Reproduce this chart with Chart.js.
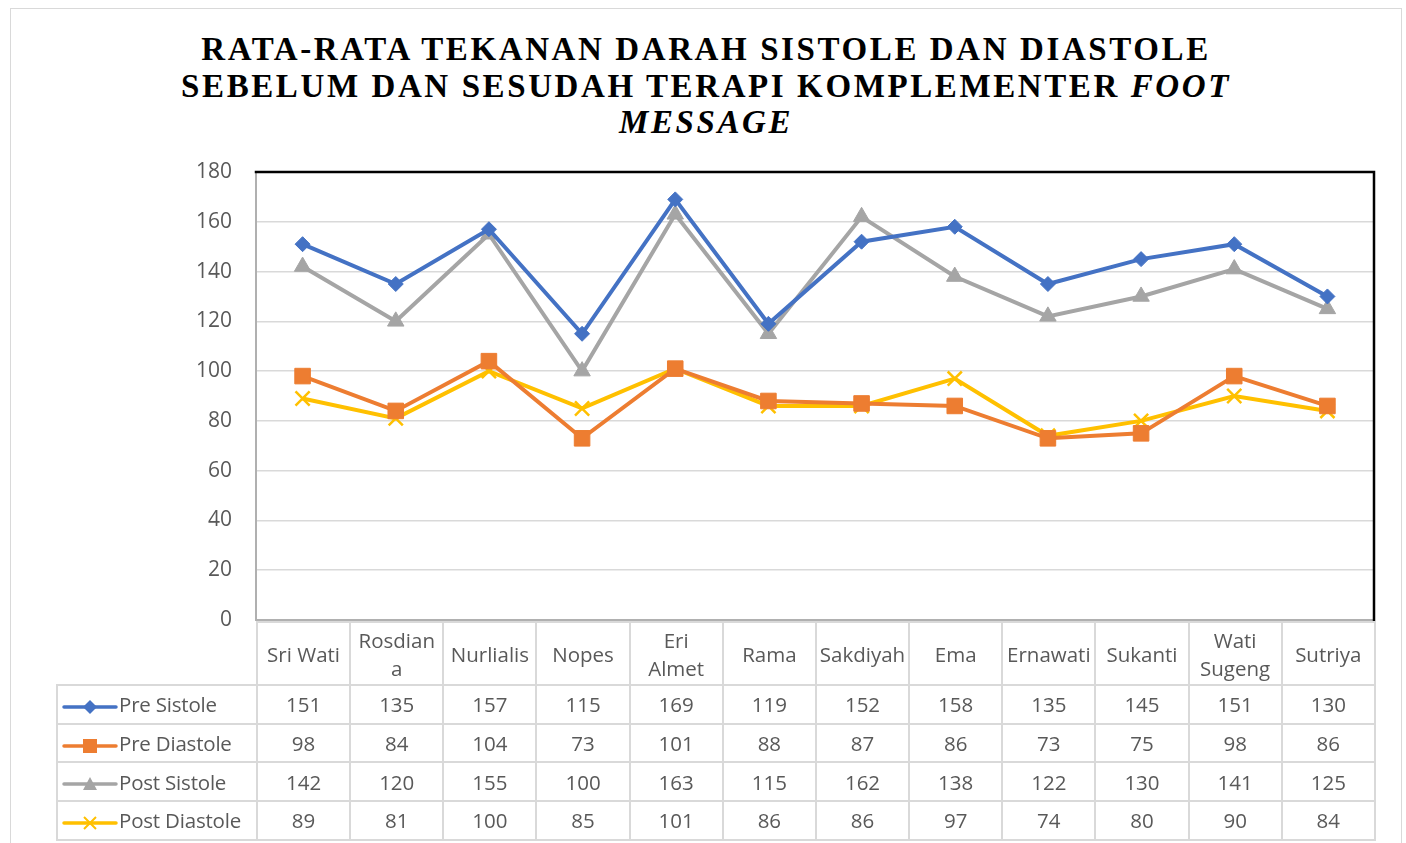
<!DOCTYPE html>
<html>
<head>
<meta charset="utf-8">
<script src="https://cdn.jsdelivr.net/npm/chart.js@4.4.1/dist/chart.umd.min.js"></script>
<style>
  html, body { margin: 0; padding: 0; background: #fff; }
  #wrap { position: relative; width: 1406px; height: 843px; overflow: hidden; }
  #frame { position: absolute; left: 10px; top: 8px; width: 1392px; height: 900px; border: 1.5px solid #d9d9d9; box-sizing: border-box; }
  #title {
    position: absolute; left: 0; top: 31px; width: 1412px; text-align: center;
    font-family: "Liberation Serif", "DejaVu Serif", serif; font-weight: bold;
    font-size: 33px; line-height: 36.5px; letter-spacing: 2.6px; color: #000; white-space: nowrap;
  }
  #chart { position: absolute; left: 0; top: 0; }
  #table { position: absolute; border-collapse: collapse; table-layout: fixed;
    font-family: "Open Sans", "Noto Sans", sans-serif; font-size: 20.5px; color: #595959; }
  #table td { border: 2px solid #d9d9d9; text-align: center; padding: 0; line-height: 28px; }
  #table td.blank { border: none; }
  #table td.key { text-align: left; white-space: nowrap; letter-spacing: -0.2px; }
  #table td.key svg { vertical-align: middle; margin-left: 4px; margin-right: 1px; }
</style>
</head>
<body>
<div id="wrap">
  <div id="frame"></div>
  <div id="title">RATA-RATA TEKANAN DARAH SISTOLE DAN DIASTOLE<br>SEBELUM DAN SESUDAH TERAPI KOMPLEMENTER <i>FOOT</i><br><i>MESSAGE</i></div>
  <canvas id="chart" width="1406" height="843"></canvas>
  <table id="table"></table>
</div>
<script>
// categories (patients)
const categories = ['Sri Wati', ['Rosdian', 'a'], 'Nurlialis', 'Nopes', ['Eri', 'Almet'], 'Rama',
  'Sakdiyah', 'Ema', 'Ernawati', 'Sukanti', ['Wati', 'Sugeng'], 'Sutriya'];

const preSistole   = [151, 135, 157, 115, 169, 119, 152, 158, 135, 145, 151, 130];
const preDiastole  = [98, 84, 104, 73, 101, 88, 87, 86, 73, 75, 98, 86];
const postSistole  = [142, 120, 155, 100, 163, 115, 162, 138, 122, 130, 141, 125];
const postDiastole = [89, 81, 100, 85, 101, 86, 86, 97, 74, 80, 90, 84];

const yTicks = [0, 20, 40, 60, 80, 100, 120, 140, 160, 180];

const series = [
  { label: 'Pre Sistole', data: preSistole, color: '#4472C4', style: 'rectRot', radius: 7.5 },
  { label: 'Pre Diastole', data: preDiastole, color: '#ED7D31', style: 'rect', radius: 11 },
  { label: 'Post Sistole', data: postSistole, color: '#A5A5A5', style: 'triangle', radius: 9.5 },
  { label: 'Post Diastole', data: postDiastole, color: '#FFC000', style: 'crossRot', radius: 10 },
];

const frameBorder = {
  id: 'frameBorder',
  beforeDatasetsDraw(chart) {
    const { ctx, chartArea: a } = chart;
    ctx.save();
    ctx.lineCap = 'square';
    ctx.strokeStyle = '#b0b0b0';
    ctx.lineWidth = 2;
    ctx.beginPath();
    ctx.moveTo(a.left, a.top);
    ctx.lineTo(a.left, a.bottom);
    ctx.lineTo(a.right, a.bottom);
    ctx.stroke();
    ctx.strokeStyle = '#000';
    ctx.lineWidth = 2.5;
    ctx.beginPath();
    ctx.moveTo(a.left, a.top);
    ctx.lineTo(a.right, a.top);
    ctx.lineTo(a.right, a.bottom);
    ctx.stroke();
    ctx.restore();
  }
};

const chart = new Chart(document.getElementById('chart'), {
  type: 'line',
  data: {
    labels: categories,
    datasets: series.map(s => ({
      label: s.label,
      data: s.data,
      borderColor: s.color,
      backgroundColor: s.color,
      borderWidth: 4,
      pointStyle: s.style,
      pointRadius: s.radius,
      pointBorderWidth: s.style === 'crossRot' ? 2.5 : 1,
      pointBackgroundColor: s.color,
      pointBorderColor: s.color,
      tension: 0,
    })),
  },
  options: {
    responsive: false,
    animation: false,
    layout: { padding: { left: 0, top: 172, right: 32, bottom: 223 } },
    plugins: { legend: { display: false }, tooltip: { enabled: false }, title: { display: false } },
    scales: {
      x: { type: 'category', offset: true, display: false },
      y: {
        min: 0, max: 180,
        afterFit(scale) { scale.width = 256; },
        afterBuildTicks(scale) { scale.ticks = yTicks.map(v => ({ value: v })); },
        grid: { color: '#d9d9d9', lineWidth: 1.5, drawTicks: false },
        border: { display: false },
        ticks: { padding: 24, color: '#595959', font: { family: '"Open Sans", "Noto Sans", sans-serif', size: 21 } },
      },
    },
  },
  plugins: [frameBorder],
});

function keyIcon(s) {
  const w = 56, h = 18, cy = 9, cx = 28;
  let marker = '';
  if (s.style === 'rectRot') marker = `<polygon points="${cx},${cy - 7} ${cx + 7},${cy} ${cx},${cy + 7} ${cx - 7},${cy}" fill="${s.color}"/>`;
  if (s.style === 'rect') marker = `<rect x="${cx - 7}" y="${cy - 7}" width="14" height="14" fill="${s.color}"/>`;
  if (s.style === 'triangle') marker = `<polygon points="${cx},${cy - 7} ${cx + 7},${cy + 6} ${cx - 7},${cy + 6}" fill="${s.color}"/>`;
  if (s.style === 'crossRot') marker = `<path d="M${cx - 6} ${cy - 6} L${cx + 6} ${cy + 6} M${cx + 6} ${cy - 6} L${cx - 6} ${cy + 6}" stroke="${s.color}" stroke-width="2"/>`;
  return `<svg width="${w}" height="${h}"><line x1="2" y1="${cy}" x2="${w - 2}" y2="${cy}" stroke="${s.color}" stroke-width="3.5" stroke-linecap="round"/>${marker}</svg>`;
}

function buildTable() {
  const a = chart.chartArea;
  const colW = (a.right - a.left) / categories.length;
  const keyW = 200;
  const t = document.getElementById('table');
  t.style.left = (a.left - keyW) + 'px';
  t.style.top = (a.bottom + 1) + 'px';
  t.style.width = (a.right - a.left + keyW) + 'px';
  let html = `<colgroup><col style="width:${keyW}px">` + categories.map(() => `<col style="width:${colW}px">`).join('') + '</colgroup>';
  html += '<tr style="height:63px"><td class="blank"></td>' +
    categories.map(c => `<td>${Array.isArray(c) ? c.join('<br>') : c}</td>`).join('') + '</tr>';
  series.forEach(s => {
    html += '<tr style="height:38.7px"><td class="key">' + keyIcon(s) + s.label + '</td>' +
      s.data.map(v => `<td>${v}</td>`).join('') + '</tr>';
  });
  t.innerHTML = html;
}
buildTable();
</script>
</body>
</html>
